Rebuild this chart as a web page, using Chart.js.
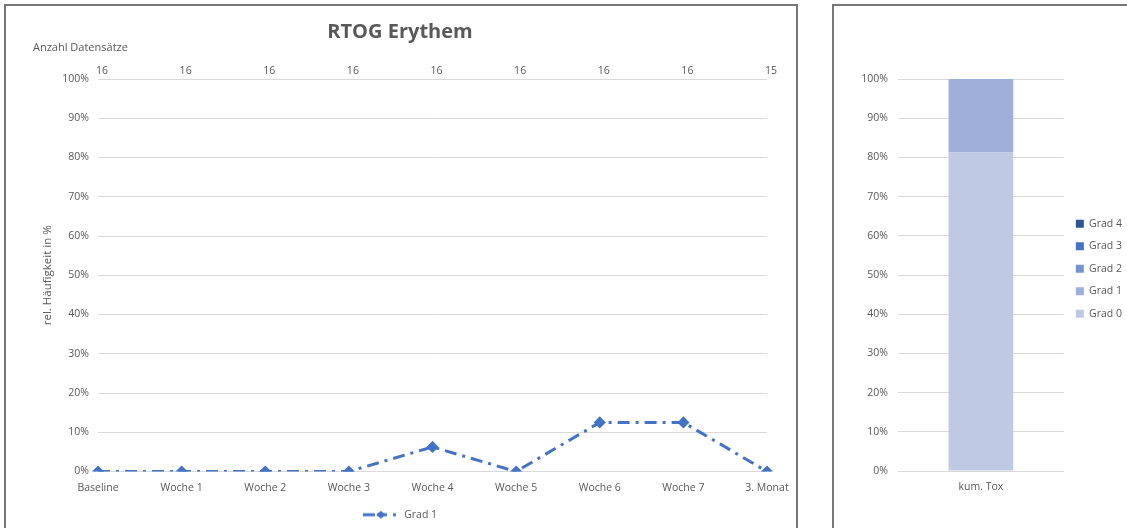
<!DOCTYPE html>
<html>
<head>
<meta charset="utf-8">
<script src="https://cdn.jsdelivr.net/npm/chart.js@4"></script>
<style>
  html, body { margin: 0; padding: 0; background: #fff; overflow: hidden; }
  body { width: 1127px; height: 528px; position: relative; }
  .panel { position: absolute; border: 2px solid #777; box-sizing: border-box; }
  #leftPanel { left: 4px; top: 4px; width: 794px; height: 540px; }
  #rightPanel { left: 832px; top: 4px; width: 320px; height: 540px; }
  canvas { position: absolute; top: 0; }
  #chartLine { left: 0; }
  #chartTox { left: 800px; }
</style>
</head>
<body>
<div class="panel" id="leftPanel"></div>
<div class="panel" id="rightPanel"></div>
<canvas id="chartLine" width="800" height="528"></canvas>
<canvas id="chartTox" width="332" height="528"></canvas>
<script>
const categories = ['Baseline', 'Woche 1', 'Woche 2', 'Woche 3', 'Woche 4', 'Woche 5', 'Woche 6', 'Woche 7', '3. Monat'];
const grad1Values = [0, 0, 0, 0, 6.25, 0, 12.5, 12.5, 0];
const recordCounts = [16, 16, 16, 16, 16, 16, 16, 16, 15];

const toxCategories = ['kum. Tox'];
const toxGrad0 = [81.25];
const toxGrad1 = [18.75];
const toxGrad2 = [0];
const toxGrad3 = [0];
const toxGrad4 = [0];

const blue = '#4472C4';
const grey = '#595959';
const gridGrey = '#d9d9d9';

Chart.defaults.font.family = "'Open Sans', sans-serif";
Chart.defaults.color = grey;
Chart.defaults.animation = false;

// legend icon: dash, diamond, dot like the excel legend
function makeLegendIcon() {
    const c = document.createElement('canvas');
    c.width = 36;
    c.height = 10;
    const g = c.getContext('2d');
    g.fillStyle = blue;
    g.fillRect(0, 3.5, 12, 3);
    g.fillRect(14, 3.5, 10, 3);
    g.fillRect(30, 3.5, 3, 3);
    g.beginPath();
    g.moveTo(18, 1); g.lineTo(22.5, 5); g.lineTo(18, 9); g.lineTo(13.5, 5);
    g.closePath();
    g.fill();
    return c;
}
const legendIcon = makeLegendIcon();

const tickFont = { size: 10.5 };

const ctx1 = document.getElementById('chartLine').getContext('2d');
const lineChart = new Chart(ctx1, {
    type: 'line',
    data: {
        labels: categories,
        datasets: [
            {
                label: 'Grad 1',
                data: grad1Values,
                borderColor: blue,
                backgroundColor: blue,
                borderWidth: 3,
                borderDash: [12, 6, 3, 6],
                pointStyle: 'rectRot',
                pointRadius: 4,
                pointBackgroundColor: blue,
                pointBorderColor: blue,
                tension: 0,
                xAxisID: 'x',
                yAxisID: 'y'
            }
        ]
    },
    options: {
        responsive: false,
        layout: { padding: { left: 33, right: 33, top: 0, bottom: -2 } },
        plugins: {
            tooltip: { enabled: false },
            title: {
                display: true,
                text: 'RTOG Erythem',
                color: grey,
                font: { size: 20, weight: 'bold', lineHeight: 1 },
                padding: { top: 22, bottom: 0 }
            },
            subtitle: {
                display: true,
                text: 'Anzahl Datensätze',
                align: 'start',
                color: grey,
                font: { size: 11, lineHeight: 1 },
                padding: { top: 0, bottom: 0 }
            },
            legend: {
                position: 'bottom',
                labels: {
                    usePointStyle: true,
                    pointStyleWidth: 36,
                    padding: 6,
                    color: grey,
                    font: tickFont,
                    generateLabels: chart => Chart.defaults.plugins.legend.labels.generateLabels(chart)
                        .map(l => Object.assign(l, { pointStyle: legendIcon }))
                }
            }
        },
        scales: {
            x: {
                type: 'category',
                position: 'bottom',
                offset: false,
                grid: { display: false, drawTicks: false },
                border: { display: false },
                ticks: { font: tickFont, color: grey, padding: 10, autoSkip: false, maxRotation: 0 },
                afterFit: s => { s.height = 32; }
            },
            x2: {
                type: 'category',
                position: 'top',
                display: true,
                labels: recordCounts.map(String),
                offset: false,
                grid: { display: false, drawTicks: false },
                border: { display: false },
                ticks: { font: tickFont, color: grey, padding: 2, labelOffset: 4, autoSkip: false, maxRotation: 0 },
                afterFit: s => { s.height = 26; }
            },
            y: {
                min: 0,
                max: 100,
                grid: { color: gridGrey, lineWidth: 1, drawTicks: false },
                border: { display: false },
                ticks: {
                    stepSize: 10,
                    padding: 9,
                    font: tickFont,
                    color: grey,
                    callback: v => v + '%'
                },
                title: {
                    display: true,
                    text: 'rel. Häufigkeit in %',
                    color: grey,
                    font: { size: 11.5 },
                    padding: { top: 8, bottom: 0 }
                },
                afterFit: s => { s.width = 65; }
            }
        }
    }
});

const ctx2 = document.getElementById('chartTox').getContext('2d');
const toxChart = new Chart(ctx2, {
    type: 'bar',
    data: {
        labels: toxCategories,
        datasets: [
            { label: 'Grad 0', data: toxGrad0, backgroundColor: '#BFC9E4' },
            { label: 'Grad 1', data: toxGrad1, backgroundColor: '#9FAFD9' },
            { label: 'Grad 2', data: toxGrad2, backgroundColor: '#7493D0' },
            { label: 'Grad 3', data: toxGrad3, backgroundColor: '#4472C4' },
            { label: 'Grad 4', data: toxGrad4, backgroundColor: '#2F5597' }
        ]
    },
    options: {
        responsive: false,
        layout: { padding: { left: 40, right: 0, top: 79, bottom: 27 } },
        datasets: { bar: { borderWidth: 0, barPercentage: 0.39, categoryPercentage: 1 } },
        plugins: {
            tooltip: { enabled: false },
            legend: {
                position: 'right',
                reverse: true,
                align: 'start',
                // empty title only pushes the entries down to where excel puts them
                title: {
                    display: true,
                    text: ' ',
                    font: { size: 10.5, lineHeight: 1.2 },
                    padding: { top: 115, bottom: 0 }
                },
                labels: {
                    boxWidth: 8,
                    boxHeight: 8,
                    padding: 12,
                    color: grey,
                    font: tickFont
                }
            }
        },
        scales: {
            x: {
                stacked: true,
                grid: { display: false, drawTicks: false },
                border: { display: false },
                ticks: { font: tickFont, color: grey, padding: 10 },
                afterFit: s => { s.height = 30; }
            },
            y: {
                stacked: true,
                min: 0,
                max: 100,
                grid: { color: gridGrey, lineWidth: 1, drawTicks: false },
                border: { display: false },
                ticks: {
                    stepSize: 10,
                    padding: 10,
                    font: tickFont,
                    color: grey,
                    callback: v => v + '%'
                },
                afterFit: s => { s.width = 58; }
            }
        }
    }
});
</script>
</body>
</html>
